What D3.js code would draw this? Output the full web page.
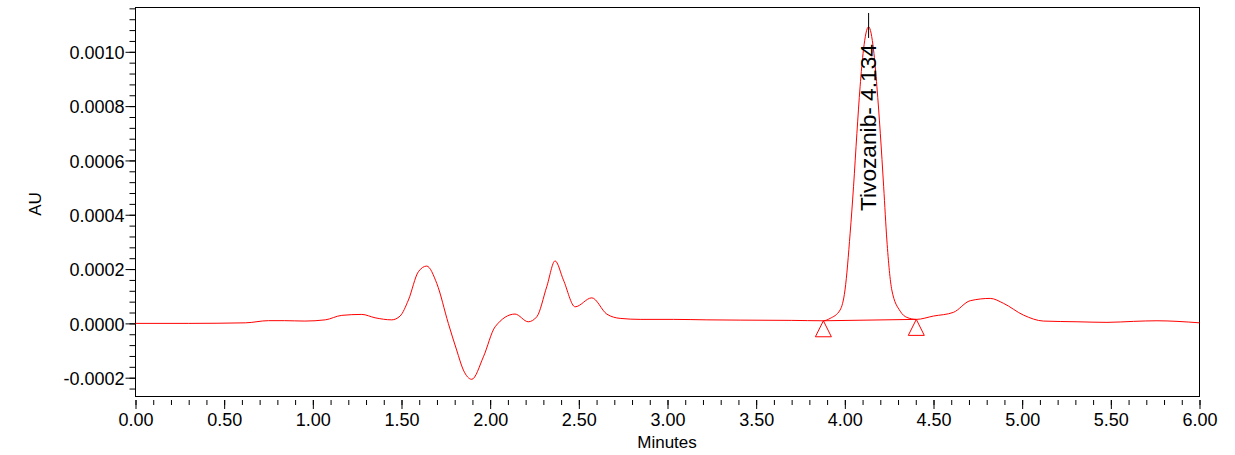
<!DOCTYPE html>
<html>
<head>
<meta charset="utf-8">
<script src="https://cdn.jsdelivr.net/npm/d3@7/dist/d3.min.js"></script>
<style>
  html, body { margin: 0; padding: 0; background: #fff; }
  svg { display: block; }
  text { font-family: Arial, "Liberation Sans", sans-serif; fill: #000; }
</style>
</head>
<body>
<svg id="chart" width="1235" height="455"></svg>
<script>
// ---- data ----
const times = [0.00, 0.30, 0.62, 0.75, 0.84, 0.955, 1.07, 1.163, 1.276, 1.351, 1.445, 1.492, 1.539, 1.595, 1.642, 1.699, 1.764, 1.811, 1.849, 1.896, 1.962, 2.028, 2.14, 2.215, 2.263, 2.319, 2.366, 2.413, 2.479, 2.573, 2.658, 2.733, 2.846, 3.033, 3.222, 3.41, 3.70, 3.879, 3.917, 3.973, 4.001, 4.03, 4.049, 4.068, 4.086, 4.105, 4.134, 4.162, 4.181, 4.2, 4.219, 4.237, 4.265, 4.312, 4.35, 4.403, 4.5, 4.612, 4.707, 4.82, 4.895, 5.007, 5.12, 5.309, 5.478, 5.628, 5.76, 5.873, 6.0];
const absorbance = [0.0, 0.0, 0.000002, 0.00001, 0.00001, 0.0000085, 0.000013, 0.0000295, 0.000033, 0.0000206, 0.000013, 0.000027, 0.000086, 0.00019, 0.000211, 0.000147, 0.0, -0.0000983, -0.000172, -0.000206, -0.000123, -0.0000125, 0.0000343, 0.0000059, 0.0000243, 0.000135, 0.00023, 0.00016, 0.000061, 0.000094, 0.000034, 0.0000184, 0.0000147, 0.0000147, 0.000013, 0.000012, 0.000011, 0.0000096, 0.0000184, 0.000049, 0.000123, 0.000332, 0.000503, 0.0007, 0.000871, 0.001007, 0.001092, 0.001007, 0.000871, 0.0007, 0.000503, 0.000307, 0.000123, 0.000045, 0.000022, 0.0000147, 0.000027, 0.0000405, 0.0000834, 0.000092, 0.0000737, 0.0000306, 0.0000085, 0.0000059, 0.0000037, 0.0000074, 0.0000096, 0.0000074, 0.000002];

const peakName = "Tivozanib";
const peakTime = 4.134;
const baselineStart = [3.879, 0.0000096];
const baselineEnd = [4.403, 0.0000147];

const xTickValues = [0, 0.5, 1, 1.5, 2, 2.5, 3, 3.5, 4, 4.5, 5, 5.5, 6];
const xTickLabels = ["0.00", "0.50", "1.00", "1.50", "2.00", "2.50", "3.00", "3.50", "4.00", "4.50", "5.00", "5.50", "6.00"];
const yTickValues = [-0.0002, 0, 0.0002, 0.0004, 0.0006, 0.0008, 0.0010];
const yTickLabels = ["-0.0002", "0.0000", "0.0002", "0.0004", "0.0006", "0.0008", "0.0010"];
const xLabel = "Minutes";
const yLabel = "AU";

// ---- layout ----
const plotLeft = 135.5, plotRight = 1199.5, plotTop = 7.5, plotBottom = 396.5;
const svg = d3.select("#chart");

const x = d3.scaleLinear().domain([0, 6]).range([plotLeft, plotRight]);
const y = d3.scaleLinear().domain([-0.00027, 0.001165]).range([396.7, 7]);

// frame
svg.append("rect")
  .attr("x", plotLeft).attr("y", plotTop)
  .attr("width", plotRight - plotLeft).attr("height", plotBottom - plotTop)
  .attr("fill", "none").attr("stroke", "#000").attr("stroke-width", 1);

// y axis ticks
const yMinor = d3.range(-0.00024, 0.00117, 0.00004);
const yAxisMinor = d3.axisLeft(y).tickValues(yMinor).tickSize(6).tickFormat("");
const yAxisMajor = d3.axisLeft(y).tickValues(yTickValues).tickSize(10)
  .tickFormat((d, i) => yTickLabels[i]).tickPadding(1);
const gyMinor = svg.append("g").attr("transform", `translate(${plotLeft},0)`).call(yAxisMinor);
const gyMajor = svg.append("g").attr("transform", `translate(${plotLeft},0)`).call(yAxisMajor);
[gyMinor, gyMajor].forEach(g => {
  g.select(".domain").remove();
  g.selectAll("line").attr("stroke", "#000").attr("stroke-width", 1);
});
gyMajor.selectAll("text").attr("font-size", 18).attr("font-family", "Arial, 'Liberation Sans', sans-serif").attr("dy", "0.38em");

// x axis ticks (offset slightly below the frame)
const xMinor = d3.range(0, 6.001, 0.1);
const xAxisMinor = d3.axisBottom(x).tickValues(xMinor).tickSize(5).tickFormat("");
const xAxisMajor = d3.axisBottom(x).tickValues(xTickValues).tickSize(9)
  .tickFormat((d, i) => xTickLabels[i]).tickPadding(4);
const gxMinor = svg.append("g").attr("transform", `translate(0,400)`).call(xAxisMinor);
const gxMajor = svg.append("g").attr("transform", `translate(0,400)`).call(xAxisMajor);
[gxMinor, gxMajor].forEach(g => {
  g.select(".domain").remove();
  g.selectAll("line").attr("stroke", "#000").attr("stroke-width", 1);
});
gxMajor.selectAll("text").attr("font-size", 18).attr("font-family", "Arial, 'Liberation Sans', sans-serif");

// axis titles
svg.append("text").text(xLabel)
  .attr("x", 667).attr("y", 448).attr("text-anchor", "middle").attr("font-size", 17);
svg.append("text").text(yLabel)
  .attr("transform", "translate(41,204) rotate(-90)")
  .attr("text-anchor", "middle").attr("font-size", 17);

// chromatogram trace
const pts = times.map((t, i) => [t, absorbance[i]]);
const line = d3.line().x(d => x(d[0])).y(d => y(d[1])).curve(d3.curveMonotoneX);
svg.append("path").datum(pts)
  .attr("d", line).attr("fill", "none").attr("stroke", "#ff0000").attr("stroke-width", 1);

// integration baseline
svg.append("line")
  .attr("x1", x(baselineStart[0])).attr("y1", y(baselineStart[1]))
  .attr("x2", x(baselineEnd[0])).attr("y2", y(baselineEnd[1]))
  .attr("stroke", "#ff0000").attr("stroke-width", 1);

// baseline markers (triangles)
[baselineStart, baselineEnd].forEach(p => {
  const px = x(p[0]), py = y(p[1]);
  svg.append("path")
    .attr("d", `M${px},${py} L${px - 8},${py + 16} L${px + 8},${py + 16} Z`)
    .attr("fill", "none").attr("stroke", "#ff0000").attr("stroke-width", 1);
});

// apex marker
svg.append("line")
  .attr("x1", x(peakTime)).attr("x2", x(peakTime))
  .attr("y1", y(0.001143)).attr("y2", y(0.001051))
  .attr("stroke", "#000").attr("stroke-width", 1);

// peak label
svg.append("text").text(`${peakName}- ${peakTime.toFixed(3)}`)
  .attr("transform", `translate(${x(peakTime) + 7.5},211) rotate(-90)`)
  .attr("text-anchor", "start").attr("font-size", 22.7);
</script>
</body>
</html>
